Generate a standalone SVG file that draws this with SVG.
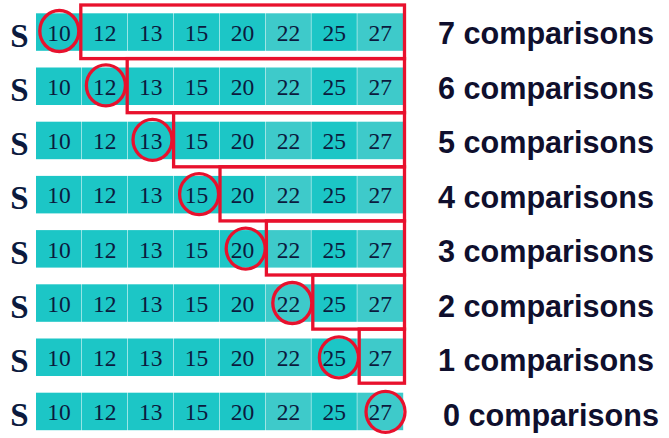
<svg xmlns="http://www.w3.org/2000/svg" width="669" height="438" viewBox="0 0 669 438">
<style>
.c{fill:#1cc6c6}
.l{fill:#3ecaca}
.n{font-family:"Liberation Serif","Times New Roman",serif;font-size:23.5px;fill:#0b1a3e;text-anchor:middle}
.s{font-family:"Liberation Serif","Times New Roman",serif;font-size:33px;font-weight:bold;fill:#0b1a3e;text-anchor:middle}
.t{font-family:"Liberation Sans",Arial,sans-serif;font-size:30.6px;font-weight:bold;fill:#0f0f2d}
.r{fill:none;stroke:#e8112d;stroke-width:3.3}
</style>
<defs>
<g id="row">
<rect class="c" x="36" y="0" width="45.4" height="37.5"/>
<rect class="c" x="81.9" y="0" width="45.4" height="37.5"/>
<rect class="c" x="127.8" y="0" width="45.4" height="37.5"/>
<rect class="c" x="173.7" y="0" width="45.4" height="37.5"/>
<rect class="c" x="219.6" y="0" width="45.4" height="37.5"/>
<rect class="l" x="265.5" y="0" width="45.4" height="37.5"/>
<rect class="c" x="311.4" y="0" width="45.4" height="37.5"/>
<rect class="l" x="357.3" y="0" width="45.9" height="37.5"/>
<text class="s" x="19.5" y="33.5">S</text>
<text class="n" x="58.9" y="27.5">10</text>
<text class="n" x="104.8" y="27.5">12</text>
<text class="n" x="150.7" y="27.5">13</text>
<text class="n" x="196.6" y="27.5">15</text>
<text class="n" x="242.5" y="27.5">20</text>
<text class="n" x="288.4" y="27.5">22</text>
<text class="n" x="334.3" y="27.5">25</text>
<text class="n" x="380.2" y="27.5">27</text>
</g>
</defs>
<g id="row1"><use href="#row" y="13.3"/><text class="t" x="438" y="44">7 comparisons</text></g>
<g id="row2"><use href="#row" y="67.5"/><text class="t" x="438" y="98.6">6 comparisons</text></g>
<g id="row3"><use href="#row" y="121.7"/><text class="t" x="438" y="153.1">5 comparisons</text></g>
<g id="row4"><use href="#row" y="175.9"/><text class="t" x="438" y="207.7">4 comparisons</text></g>
<g id="row5"><use href="#row" y="230.1"/><text class="t" x="438" y="262.3">3 comparisons</text></g>
<g id="row6"><use href="#row" y="284.3"/><text class="t" x="438" y="316.9">2 comparisons</text></g>
<g id="row7"><use href="#row" y="338.5"/><text class="t" x="438" y="371.4">1 comparisons</text></g>
<g id="row8"><use href="#row" y="392.7"/><text class="t" x="443" y="426">0 comparisons</text></g>
<g id="boxes">
<rect class="r" x="80.8" y="5" width="323.7" height="53.6"/>
<rect class="r" x="127.2" y="58.6" width="277.3" height="54.1"/>
<rect class="r" x="173.6" y="112.7" width="230.9" height="54.1"/>
<rect class="r" x="220" y="166.8" width="184.5" height="54.1"/>
<rect class="r" x="266.4" y="220.9" width="138.1" height="54.1"/>
<rect class="r" x="312.8" y="275" width="91.7" height="54.1"/>
<rect class="r" x="359.2" y="329.1" width="45.3" height="54.1"/>
</g>
<g id="circles">
<ellipse class="r" cx="59.3" cy="31" rx="19.5" ry="20.5"/>
<ellipse class="r" cx="105.9" cy="85.4" rx="19.5" ry="20.5"/>
<ellipse class="r" cx="152.5" cy="139.8" rx="19.5" ry="20.5"/>
<ellipse class="r" cx="199.1" cy="194.2" rx="19.5" ry="20.5"/>
<ellipse class="r" cx="245.7" cy="248.6" rx="19.5" ry="20.5"/>
<ellipse class="r" cx="292.3" cy="303" rx="19.5" ry="20.5"/>
<ellipse class="r" cx="338.9" cy="357.4" rx="19.5" ry="20.5"/>
<ellipse class="r" cx="385.5" cy="411.8" rx="19.5" ry="20.5"/>
</g>
</svg>
